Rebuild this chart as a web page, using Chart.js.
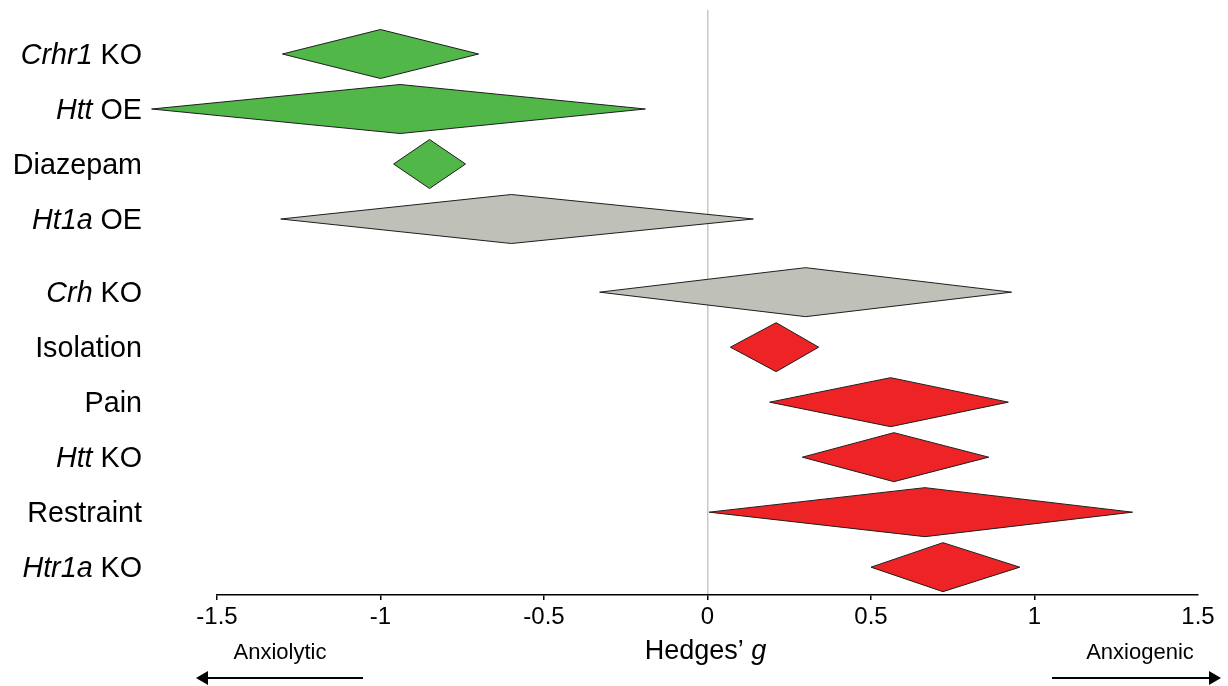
<!DOCTYPE html>
<html>
<head>
<meta charset="utf-8">
<script src="https://cdn.jsdelivr.net/npm/chart.js@4"></script>
<style>
  html, body { margin: 0; padding: 0; background: #fff; }
  canvas { display: block; }
</style>
</head>
<body>
<canvas id="c" width="1228" height="686"></canvas>
<script>
// ---- data ----
const rowLabels = ['*Crhr1* KO', '*Htt* OE', 'Diazepam', '*Ht1a* OE', '*Crh* KO',
                   'Isolation', 'Pain', '*Htt* KO', 'Restraint', '*Htr1a* KO'];
const effectG = [-1.00, -0.94, -0.85, -0.60, 0.30, 0.21, 0.56, 0.57, 0.665, 0.72];
const lowerCI = [-1.30, -1.70, -0.96, -1.305, -0.33, 0.07, 0.19, 0.29, 0.005, 0.50];
const upperCI = [-0.70, -0.19, -0.74, 0.14, 0.93, 0.34, 0.92, 0.86, 1.30, 0.955];
const effectGroup = ['anxiolytic', 'anxiolytic', 'anxiolytic', 'none', 'none',
                     'anxiogenic', 'anxiogenic', 'anxiogenic', 'anxiogenic', 'anxiogenic'];
const xTickValues = [-1.5, -1, -0.5, 0, 0.5, 1, 1.5];
const axisTitle = ['Hedges\u2019 ', 'g'];
const leftNote = 'Anxiolytic';
const rightNote = 'Anxiogenic';

// ---- styling ----
const FONT = "'Liberation Sans', Arial, Helvetica, sans-serif";
const groupColors = { anxiolytic: '#50b748', none: '#bfc1b8', anxiogenic: '#ee2326' };
const rowPos = rowLabels.map((_, i) => i + (i >= 4 ? 0.33 : 0));
const HALF_H = 24.5;

const groups = ['anxiolytic', 'none', 'anxiogenic'];
const datasets = groups.map(g => ({
  label: g,
  data: effectG.map((v, i) => ({ x: v, y: rowPos[i], lo: lowerCI[i], hi: upperCI[i], idx: i }))
               .filter(p => effectGroup[p.idx] === g),
  backgroundColor: groupColors[g],
  pointRadius: 0,
  pointHoverRadius: 0
}));

const diamondPlugin = {
  id: 'diamonds',
  afterDatasetsDraw(chart) {
    const { ctx, scales: { x, y } } = chart;
    ctx.save();
    chart.data.datasets.forEach(ds => {
      ds.data.forEach(p => {
        const lo = x.getPixelForValue(p.lo);
        const mid = x.getPixelForValue(p.x);
        const hi = x.getPixelForValue(p.hi);
        const py = y.getPixelForValue(p.y);
        ctx.beginPath();
        ctx.moveTo(lo, py);
        ctx.lineTo(mid, py - HALF_H);
        ctx.lineTo(hi, py);
        ctx.lineTo(mid, py + HALF_H);
        ctx.closePath();
        ctx.fillStyle = ds.backgroundColor;
        ctx.fill();
        ctx.lineWidth = 1;
        ctx.strokeStyle = '#1e1e1e';
        ctx.lineJoin = 'miter';
        ctx.stroke();
      });
    });
    ctx.restore();
  }
};

function drawMixed(ctx, segments, xRight, baseline, size) {
  const widths = segments.map(([t, it]) => {
    ctx.font = (it ? 'italic ' : '') + size + 'px ' + FONT;
    return ctx.measureText(t).width;
  });
  const total = widths.reduce((a, b) => a + b, 0);
  let cx = xRight - total;
  segments.forEach(([t, it], k) => {
    ctx.font = (it ? 'italic ' : '') + size + 'px ' + FONT;
    ctx.fillText(t, cx, baseline);
    cx += widths[k];
  });
  return total;
}

function parseLabel(s) {
  return s.split('*').map((t, k) => [t, k % 2 === 1]).filter(([t]) => t.length > 0);
}

const textPlugin = {
  id: 'texts',
  afterDraw(chart) {
    const { ctx, chartArea, scales: { y } } = chart;
    ctx.save();
    ctx.fillStyle = '#000';
    ctx.textAlign = 'left';
    ctx.textBaseline = 'alphabetic';
    // row labels
    rowLabels.forEach((lab, i) => {
      const py = y.getPixelForValue(rowPos[i]);
      drawMixed(ctx, parseLabel(lab), 142, py + 10, 28.7);
    });
    // axis title (centered on zero)
    const segs = [[axisTitle[0], false], [axisTitle[1], true]];
    let tw = 0;
    segs.forEach(([t, it]) => { ctx.font = (it ? 'italic ' : '') + '27px ' + FONT; tw += ctx.measureText(t).width; });
    const center = chart.scales.x.getPixelForValue(0);
    drawMixed(ctx, segs, center + tw / 2 - 2, 659, 27);

    // direction notes and arrows
    ctx.font = '22px ' + FONT;
    ctx.textAlign = 'center';
    ctx.fillText(leftNote, chartArea.left + 63, 659);
    ctx.fillText(rightNote, chartArea.right - 58, 659);

    const ay = 678;
    ctx.strokeStyle = '#000';
    ctx.lineWidth = 2;
    const lTip = chartArea.left - 21, lEnd = chartArea.left + 146;
    ctx.beginPath(); ctx.moveTo(lEnd, ay); ctx.lineTo(lTip + 10, ay); ctx.stroke();
    ctx.beginPath(); ctx.moveTo(lTip, ay); ctx.lineTo(lTip + 12, ay - 7); ctx.lineTo(lTip + 12, ay + 7); ctx.closePath(); ctx.fill();
    const rTip = chartArea.right + 23, rStart = chartArea.right - 146;
    ctx.beginPath(); ctx.moveTo(rStart, ay); ctx.lineTo(rTip - 10, ay); ctx.stroke();
    ctx.beginPath(); ctx.moveTo(rTip, ay); ctx.lineTo(rTip - 12, ay - 7); ctx.lineTo(rTip - 12, ay + 7); ctx.closePath(); ctx.fill();
    ctx.restore();
  }
};

new Chart(document.getElementById('c'), {
  type: 'scatter',
  data: { datasets },
  options: {
    responsive: false,
    animation: false,
    devicePixelRatio: 1,
    layout: { padding: { left: 217, right: 30, top: 10, bottom: 0 } },
    plugins: { legend: { display: false }, tooltip: { enabled: false } },
    events: [],
    scales: {
      x: {
        type: 'linear',
        min: xTickValues[0],
        max: xTickValues[xTickValues.length - 1],
        afterBuildTicks: scale => { scale.ticks = xTickValues.map(v => ({ value: v })); },
        ticks: {
          color: '#000',
          font: { family: FONT, size: 24 },
          padding: 3,
          maxRotation: 0,
          callback: v => String(v)
        },
        grid: {
          drawOnChartArea: true,
          drawTicks: true,
          tickLength: 5,
          lineWidth: 1.5,
          color: c => (c.tick && c.tick.value === 0) ? '#c8c8c8' : 'rgba(0,0,0,0)',
          tickColor: c => (c.tick && c.tick.value === 1.5) ? 'rgba(0,0,0,0)' : '#000',
          tickWidth: 1.5
        },
        border: { display: true, color: '#000', width: 1.5 },
        afterFit: scale => { scale.height = 91; }
      },
      y: {
        type: 'linear',
        reverse: true,
        min: -0.8,
        max: 9.836,
        display: false
      }
    }
  },
  plugins: [diamondPlugin, textPlugin]
});
</script>
</body>
</html>
